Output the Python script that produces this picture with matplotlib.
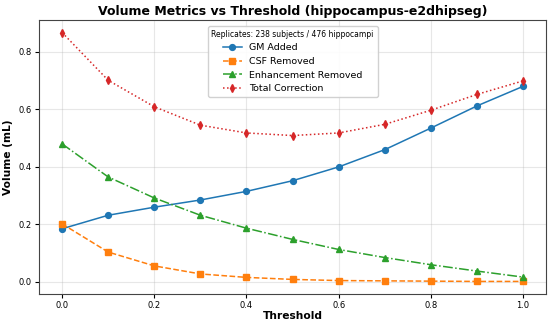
import matplotlib
matplotlib.use("Agg")
import matplotlib.pyplot as plt

thresholds = [0.0, 0.1, 0.2, 0.3, 0.4, 0.5, 0.6, 0.7, 0.8, 0.9, 1.0]
gm_added = [0.185, 0.232, 0.260, 0.285, 0.315, 0.352, 0.400, 0.460, 0.535, 0.612, 0.680]
csf_removed = [0.202, 0.104, 0.056, 0.028, 0.016, 0.009, 0.005, 0.004, 0.003, 0.002, 0.002]
enh_removed = [0.480, 0.365, 0.292, 0.232, 0.187, 0.148, 0.113, 0.085, 0.060, 0.038, 0.017]
total_corr = [0.867, 0.701, 0.609, 0.545, 0.518, 0.509, 0.518, 0.548, 0.597, 0.652, 0.699]

fig, ax = plt.subplots(figsize=(5.5, 3.24), dpi=100)
ax.plot(thresholds, gm_added, '-', marker='o', color='#1f77b4', lw=1.1, ms=4.2, label='GM Added')
ax.plot(thresholds, csf_removed, '--', marker='s', color='#ff7f0e', lw=1.1, ms=4.2, label='CSF Removed')
ax.plot(thresholds, enh_removed, '-.', marker='^', color='#2ca02c', lw=1.1, ms=4.2, label='Enhancement Removed')
ax.plot(thresholds, total_corr, ':', marker='d', color='#d62728', lw=1.1, ms=4.2, label='Total Correction')

ax.set_title('Volume Metrics vs Threshold (hippocampus-e2dhipseg)', fontsize=9, fontweight='bold', pad=4)
ax.set_xlabel('Threshold', fontsize=7.7, fontweight='bold', labelpad=1)
ax.set_ylabel('Volume (mL)', fontsize=7.7, fontweight='bold', labelpad=4)
ax.tick_params(labelsize=6, length=3, pad=2)
ax.set_xticks([0.0, 0.2, 0.4, 0.6, 0.8, 1.0])
ax.set_yticks([0.0, 0.2, 0.4, 0.6, 0.8])
ax.grid(True, alpha=0.3)
leg = ax.legend(title='Replicates: 238 subjects / 476 hippocampi', loc='upper center',
                fontsize=6.8, title_fontsize=5.5, framealpha=0.9, borderaxespad=0.6)
for s in ax.spines.values():
    s.set_color('#444444')
fig.subplots_adjust(left=0.071, right=0.993, top=0.938, bottom=0.093)
fig.savefig('out.png', dpi=100)
